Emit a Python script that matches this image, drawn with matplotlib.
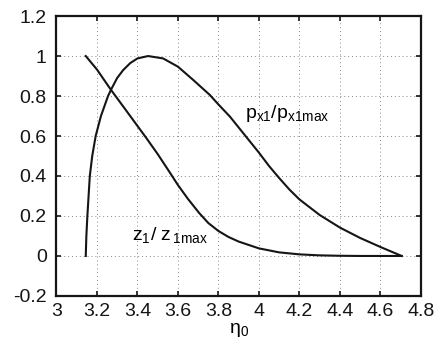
import matplotlib
matplotlib.use("Agg")
import matplotlib.pyplot as plt

plt.rcParams["font.family"] = ["Liberation Sans", "DejaVu Sans"]
plt.rcParams["mathtext.fontset"] = "custom"
plt.rcParams["mathtext.rm"] = "Liberation Sans"
plt.rcParams["mathtext.it"] = "Liberation Sans"
plt.rcParams["mathtext.default"] = "regular"

FS = 14

# p_x1 / p_x1max
p_eta = [3.145, 3.148, 3.153, 3.165, 3.177, 3.194, 3.22, 3.255, 3.273, 3.30,
         3.33, 3.365, 3.40, 3.453, 3.527, 3.60, 3.676, 3.758, 3.80, 3.857,
         3.93, 4.00, 4.05, 4.10, 4.15, 4.20, 4.30, 4.40, 4.50, 4.60,
         4.705]
p_val = [0.0, 0.1, 0.2, 0.4, 0.5, 0.6, 0.7, 0.8, 0.838, 0.89,
         0.93, 0.965, 0.988, 1.0, 0.988, 0.947, 0.88, 0.805, 0.758, 0.697,
         0.605, 0.517, 0.45, 0.39, 0.333, 0.283, 0.205, 0.142, 0.09, 0.045,
         0.0]

# z_1 / z_1max
z_eta = [3.145, 3.2, 3.268, 3.35, 3.444, 3.5, 3.565, 3.6, 3.65, 3.705,
         3.75, 3.8, 3.85, 3.9, 4.0, 4.1, 4.2, 4.3, 4.4, 4.5, 4.705]
z_val = [1.0, 0.933, 0.833, 0.72, 0.59, 0.51, 0.41, 0.355, 0.285, 0.215,
         0.165, 0.125, 0.095, 0.072, 0.038, 0.018, 0.008, 0.003, 0.001, 0.0,
         0.0]

x_ticks = [3, 3.2, 3.4, 3.6, 3.8, 4, 4.2, 4.4, 4.6, 4.8]
y_ticks = [-0.2, 0, 0.2, 0.4, 0.6, 0.8, 1, 1.2]

fig = plt.figure(figsize=(4.44, 3.49), dpi=100)
ax = fig.add_axes([0.127, 0.152, 0.821, 0.802])

line_kw = dict(color="#151515", linewidth=1.5, solid_joinstyle="round")
ax.plot(p_eta, p_val, **line_kw)
ax.plot(z_eta, z_val, **line_kw)

ax.text(3.93, 0.688, r"$p_{x1}/p_{x1max}$", fontsize=FS, va="baseline")
ax.text(3.373, 0.08, r"$z_1/\ z_{\,1max}$", fontsize=FS, va="baseline")

ax.set_xlim(3, 4.8)
ax.set_ylim(-0.2, 1.2)
ax.set_xticks(x_ticks)
ax.set_xticklabels([f"{v:g}" for v in x_ticks])
ax.set_yticks(y_ticks)
ax.set_yticklabels([f"{v:g}" for v in y_ticks])
ax.set_xlabel(r"$\eta_0$", fontsize=FS, labelpad=1)

ax.grid(True, linestyle=(0, (1, 3)), color="#888888", linewidth=0.7)
for sp in ax.spines.values():
    sp.set_linewidth(1.6)
    sp.set_color("#151515")
ax.tick_params(axis="both", direction="in", length=3.5, width=1.2,
               top=True, right=True, labelsize=FS, colors="#151515")
ax.tick_params(axis="x", pad=5)
ax.tick_params(axis="y", pad=7)

fig.savefig("out.png", dpi=100)
